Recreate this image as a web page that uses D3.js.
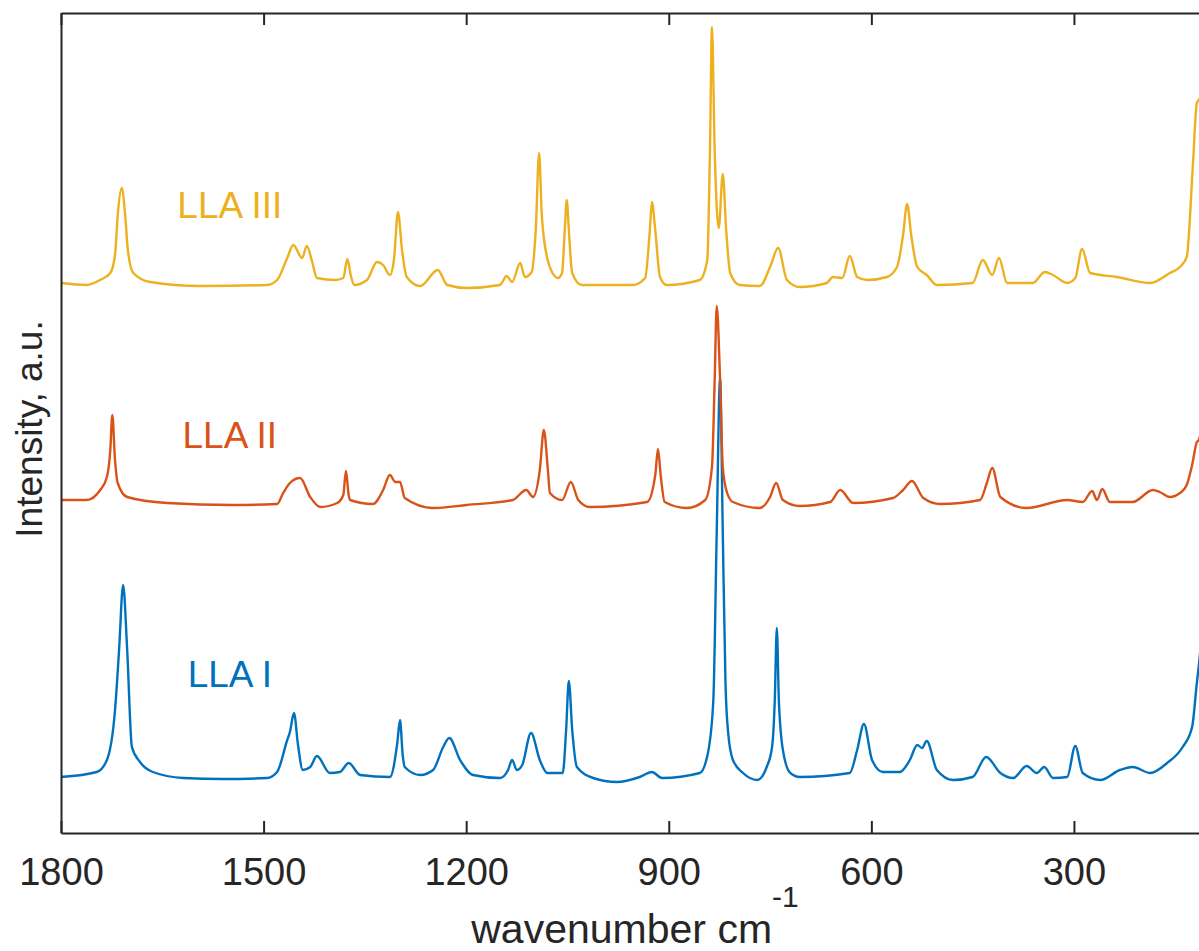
<!DOCTYPE html>
<html>
<head>
<meta charset="utf-8">
<script src="https://cdn.jsdelivr.net/npm/d3@7"></script>
<style>
  html, body { margin: 0; padding: 0; background: #fff; overflow: hidden; }
  svg { display: block; font-family: "Liberation Sans", Arial, Helvetica, sans-serif; }
</style>
</head>
<body>
<svg id="chart" width="1199" height="951"></svg>
<script>
// --- data: [wavenumber cm-1, intensity a.u.]
const xTicks = [1800, 1500, 1200, 900, 600, 300];
const seriesNames = ['LLA I', 'LLA II', 'LLA III'];

const llaI = [
  [1800, 56], [1747, 61], [1732, 73], [1720, 123], [1714, 183], [1708, 248], [1702, 183],
  [1695, 86], [1683, 71], [1664, 61], [1619, 55], [1560, 54], [1495, 55], [1480, 61],
  [1465, 93], [1461, 101], [1455, 120], [1449, 88], [1442, 63], [1431, 66], [1421, 77],
  [1402, 60], [1387, 61], [1374, 70], [1357, 58], [1313, 56], [1302, 90], [1298, 113],
  [1294, 78], [1291, 66], [1268, 58], [1249, 63], [1234, 86], [1225, 95], [1209, 73],
  [1190, 58], [1150, 55], [1138, 63], [1132, 73], [1125, 63], [1117, 68], [1104, 100],
  [1091, 73], [1080, 60], [1057, 60], [1052, 103], [1048, 152], [1043, 103], [1036, 66],
  [1012, 55], [977, 51], [943, 56], [925, 61], [910, 55], [854, 60], [842, 80], [834, 133],
  [829, 300], [824, 455], [820, 300], [816, 150], [812, 100], [805, 73], [790, 60],
  [769, 53], [755, 66], [747, 86], [743, 133], [740, 205], [737, 133], [731, 83], [720, 60],
  [706, 56], [632, 60], [621, 83], [611, 109], [599, 73], [583, 61], [558, 61], [543, 73],
  [532, 88], [525, 85], [518, 92], [503, 63], [479, 53], [450, 56], [430, 76], [409, 60],
  [390, 55], [370, 67], [355, 60], [344, 66], [331, 55], [310, 56], [298, 87], [287, 60],
  [261, 53], [232, 63], [213, 66], [187, 60], [162, 70], [139, 86], [125, 106], [118, 150],
  [115, 168], [110, 200]
];

const llaII = [
  [1800, 333], [1762, 333], [1742, 343], [1732, 356], [1727, 383], [1724, 418], [1720, 373],
  [1716, 350], [1702, 336], [1643, 330], [1545, 328], [1480, 329], [1471, 340], [1461, 350],
  [1446, 355], [1431, 336], [1416, 326], [1391, 330], [1382, 338], [1378, 362], [1374, 338],
  [1372, 333], [1338, 329], [1323, 343], [1313, 358], [1305, 351], [1298, 351], [1291, 335],
  [1249, 325], [1199, 328], [1131, 333], [1111, 343], [1101, 336], [1091, 363], [1085, 403],
  [1079, 363], [1076, 340], [1058, 333], [1045, 351], [1034, 333], [1017, 326], [932, 331],
  [920, 358], [916, 384], [912, 358], [906, 331], [873, 325], [846, 333], [836, 366],
  [832, 453], [829, 527], [824, 453], [820, 366], [814, 341], [805, 331], [765, 325],
  [750, 336], [741, 350], [731, 333], [706, 327], [661, 331], [646, 343], [627, 330],
  [568, 335], [553, 343], [540, 352], [523, 335], [498, 329], [439, 333], [429, 350],
  [421, 365], [409, 336], [370, 325], [310, 333], [287, 331], [273, 342], [266, 333],
  [258, 344], [247, 331], [213, 331], [183, 343], [173, 341], [158, 336], [143, 340],
  [133, 348], [125, 368], [118, 391], [115, 393], [110, 410]
];

const llaIII = [
  [1800, 550], [1762, 548], [1742, 553], [1727, 560], [1720, 578], [1716, 618], [1710, 645],
  [1705, 618], [1701, 583], [1693, 560], [1668, 551], [1594, 547], [1495, 548], [1480, 553],
  [1465, 575], [1456, 588], [1443, 575], [1436, 587], [1428, 571], [1421, 555], [1394, 553],
  [1382, 555], [1376, 574], [1371, 558], [1366, 548], [1347, 553], [1332, 571], [1323, 568],
  [1313, 558], [1307, 573], [1301, 621], [1295, 583], [1288, 556], [1268, 547], [1242, 563],
  [1228, 548], [1199, 545], [1150, 548], [1140, 557], [1132, 551], [1120, 570], [1113, 556],
  [1103, 561], [1097, 603], [1092, 680], [1088, 618], [1085, 595], [1073, 561], [1064, 555],
  [1058, 560], [1054, 603], [1051, 633], [1048, 603], [1043, 560], [1029, 548], [953, 548],
  [935, 555], [928, 603], [925, 631], [920, 603], [913, 556], [903, 548], [854, 553],
  [843, 573], [839, 683], [836, 806], [832, 683], [826, 605], [820, 659], [815, 603],
  [809, 560], [795, 548], [765, 547], [750, 566], [738, 585], [725, 553], [706, 546],
  [666, 550], [657, 556], [643, 555], [632, 577], [621, 556], [606, 553], [577, 556],
  [562, 566], [553, 598], [547, 629], [541, 598], [532, 566], [518, 558], [503, 548],
  [450, 550], [435, 573], [421, 558], [411, 575], [399, 550], [361, 550], [343, 561],
  [331, 558], [310, 550], [298, 555], [288, 584], [276, 560], [236, 556], [187, 550],
  [158, 560], [143, 566], [133, 576], [124, 666], [118, 730], [115, 733], [110, 740]
];

const seriesData = [llaI, llaII, llaIII];

// --- layout
const plot = { left: 61, right: 1209, top: 13, bottom: 833 };
const colors = ['#0072BD', '#D95319', '#EDB120'];
const axisColor = '#262626';
// label anchor points, in data coordinates
const labelPos = [[1550, 146], [1550, 385], [1550, 615]];

const svg = d3.select('#chart');

const x = d3.scaleLinear()
  .domain([1800, 100])
  .range([plot.left, plot.right]);

const y = d3.scaleLinear()
  .domain([0, 820])
  .range([plot.bottom, plot.top]);

svg.append('defs').append('clipPath')
  .attr('id', 'plotClip')
  .append('rect')
  .attr('x', plot.left)
  .attr('y', plot.top)
  .attr('width', plot.right - plot.left)
  .attr('height', plot.bottom - plot.top);

const line = d3.line()
  .x(d => x(d[0]))
  .y(d => y(d[1]))
  .curve(d3.curveMonotoneX);

// spectra
const lines = svg.append('g').attr('clip-path', 'url(#plotClip)');
lines.selectAll('path')
  .data(seriesData)
  .enter()
  .append('path')
  .attr('fill', 'none')
  .attr('stroke', (d, i) => colors[i])
  .attr('stroke-width', 2.4)
  .attr('stroke-linejoin', 'round')
  .attr('d', d => line(d));

// series labels
svg.append('g').selectAll('text')
  .data(seriesNames)
  .enter()
  .append('text')
  .attr('x', (d, i) => x(labelPos[i][0]))
  .attr('y', (d, i) => y(labelPos[i][1]))
  .attr('text-anchor', 'middle')
  .attr('font-size', 37)
  .attr('fill', (d, i) => colors[i])
  .text(d => d);

// axes: bottom with labels, top mirror ticks, left edge
const xAxisBottom = d3.axisBottom(x)
  .tickValues(xTicks)
  .tickSizeInner(-12)
  .tickSizeOuter(0)
  .tickPadding(25)
  .tickFormat(d3.format('d'));

const gx = svg.append('g')
  .attr('transform', `translate(0, ${plot.bottom})`)
  .call(xAxisBottom);

gx.select('.domain').attr('stroke', axisColor).attr('stroke-width', 2);
gx.selectAll('.tick line').attr('stroke', axisColor).attr('stroke-width', 2);
gx.selectAll('.tick text')
  .attr('fill', axisColor)
  .attr('font-size', 38)
  .attr('font-family', '"Liberation Sans", Arial, sans-serif')
  .attr('dy', '0.71em');

const xAxisTop = d3.axisTop(x)
  .tickValues(xTicks)
  .tickSizeInner(-12)
  .tickSizeOuter(0)
  .tickFormat('');

const gxTop = svg.append('g')
  .attr('transform', `translate(0, ${plot.top})`)
  .call(xAxisTop);

gxTop.select('.domain').attr('stroke', axisColor).attr('stroke-width', 2);
gxTop.selectAll('.tick line').attr('stroke', axisColor).attr('stroke-width', 2);

const yAxisLeft = d3.axisLeft(y).tickValues([]).tickSizeOuter(0);
const gy = svg.append('g')
  .attr('transform', `translate(${plot.left}, 0)`)
  .call(yAxisLeft);
gy.select('.domain').attr('stroke', axisColor).attr('stroke-width', 2);

svg.append('line')
  .attr('x1', plot.right).attr('x2', plot.right)
  .attr('y1', plot.top).attr('y2', plot.bottom)
  .attr('stroke', axisColor)
  .attr('stroke-width', 2);

// axis titles
const xTitle = svg.append('text')
  .attr('x', (plot.left + plot.right) / 2)
  .attr('y', 943)
  .attr('text-anchor', 'middle')
  .attr('font-size', 41)
  .attr('fill', axisColor);
xTitle.append('tspan').text('wavenumber cm');
xTitle.append('tspan')
  .attr('font-size', 30)
  .attr('dy', -36)
  .text('-1');

svg.append('text')
  .attr('transform', 'translate(42, 429) rotate(-90)')
  .attr('text-anchor', 'middle')
  .attr('font-size', 37)
  .attr('fill', axisColor)
  .text('Intensity, a.u.');
</script>
</body>
</html>
